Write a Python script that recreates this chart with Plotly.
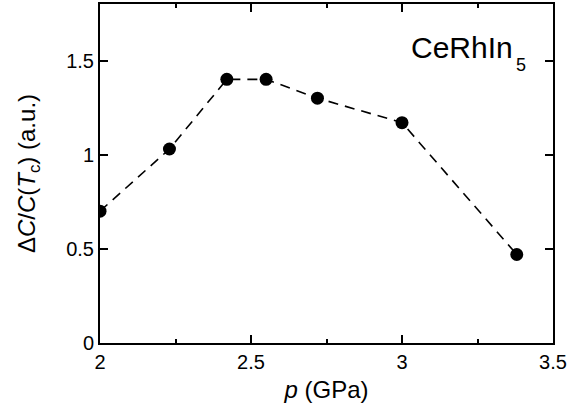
import plotly.graph_objects as go

pressure = [2.0, 2.23, 2.42, 2.55, 2.72, 3.0, 3.38]
delta_c = [0.70, 1.03, 1.40, 1.40, 1.30, 1.17, 0.47]

x_ticks = [2, 2.5, 3, 3.5]
x_tick_text = ["2", "2.5", "3", "3.5"]
y_ticks = [0, 0.5, 1, 1.5]
y_tick_text = ["0", "0.5", "1", "1.5"]

font_family = "Liberation Sans, Arial, sans-serif"

fig = go.Figure()

fig.add_trace(go.Scatter(
    x=pressure,
    y=delta_c,
    mode="lines+markers",
    line=dict(color="black", width=1.6, dash="10px,7px"),
    marker=dict(color="black", size=13, symbol="circle"),
    showlegend=False,
))

# sample label: big "CeRhIn" with a low-set subscript 5
fig.add_annotation(
    x=0.916, y=0.871, xref="paper", yref="paper",
    xanchor="right", yanchor="middle",
    text="CeRhIn",
    showarrow=False,
    font=dict(family=font_family, size=30, color="black"),
)
fig.add_annotation(
    x=0.914, y=0.82, xref="paper", yref="paper",
    xanchor="left", yanchor="middle",
    text="5",
    showarrow=False,
    font=dict(family=font_family, size=18, color="black"),
)

axis_style = dict(
    showline=True, linecolor="black", linewidth=2, mirror="allticks",
    ticks="inside", ticklen=8, tickwidth=2, tickcolor="black",
    showgrid=False, zeroline=False,
    tickfont=dict(family=font_family, size=20, color="black"),
)

fig.update_layout(
    width=579, height=409,
    margin=dict(l=100, r=26, t=2, b=66),
    plot_bgcolor="white", paper_bgcolor="white",
    font=dict(family=font_family, color="black"),
    xaxis=dict(
        axis_style,
        range=[2, 3.5],
        tickvals=x_ticks, ticktext=x_tick_text,
        minor=dict(ticks="inside", ticklen=4, tickwidth=2, tickcolor="black", dtick=0.25, tick0=2),
        title=dict(text="<i>p</i> (GPa)", font=dict(family=font_family, size=24), standoff=9),
    ),
    yaxis=dict(
        axis_style,
        range=[0, 1.8],
        tickvals=y_ticks, ticktext=y_tick_text,
        title=dict(text="Δ<i>C</i>/<i>C</i>(<i>T</i><sub>c</sub>) (a.u.)",
                   font=dict(family=font_family, size=24), standoff=24),
    ),
)

# drop the browser's default body margin so the figure sits at the page origin
fig.write_html("out.html", config={"displayModeBar": False},
               post_script="document.body.style.margin='0';")
